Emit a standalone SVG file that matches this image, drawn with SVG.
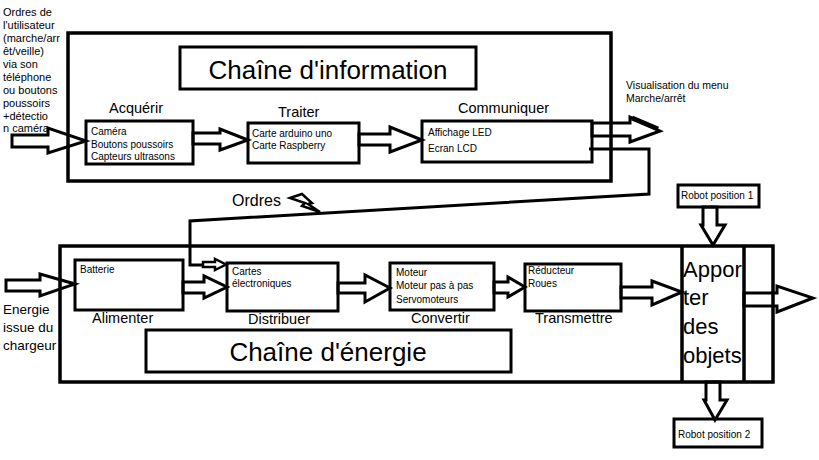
<svg xmlns="http://www.w3.org/2000/svg" width="819" height="460" viewBox="0 0 819 460">
<style>
text{font-family:"Liberation Sans",Arial,sans-serif;fill:#000}
.box{fill:#fff;stroke:#000;stroke-width:3}
.frame{fill:none;stroke:#000;stroke-width:3.5}
.arr{fill:none;stroke:#000;stroke-width:3;stroke-linejoin:miter}
.ln{fill:none;stroke:#000;stroke-width:3}
.t10{font-size:10px}
.t11{font-size:11px}
.lab{font-size:14.5px}
.big{font-size:26px}
</style>
<rect width="819" height="460" fill="#fff"/>

<!-- frames -->
<g id="info-chain">
<rect class="frame" x="68" y="33" width="543" height="148"/>
</g>
<g id="energy-chain">
<rect class="frame" x="60" y="246" width="713" height="136"/>
<line class="ln" x1="682" y1="246" x2="682" y2="382" style="stroke-width:3.5"/>
<line class="ln" x1="744" y1="246" x2="744" y2="382" style="stroke-width:3.5"/>
</g>

<g id="title-info">
<rect class="box" x="180" y="47" width="296" height="42"/>
<text class="big" x="328" y="79" text-anchor="middle">Chaîne d'information</text>
</g>
<g id="title-energy">
<rect class="box" x="146" y="330" width="365" height="42"/>
<text class="big" x="328" y="361" text-anchor="middle">Chaîne d'énergie</text>
</g>

<!-- left texts -->
<g id="user-orders">
<text class="t11" x="3" y="16">Ordres de</text>
<text class="t11" x="3" y="29">l'utilisateur</text>
<text class="t11" x="3" y="42">(marche/arr</text>
<text class="t11" x="3" y="55">êt/veille)</text>
<text class="t11" x="3" y="68">via son</text>
<text class="t11" x="3" y="81">téléphone</text>
<text class="t11" x="3" y="94">ou boutons</text>
<text class="t11" x="3" y="107">poussoirs</text>
<text class="t11" x="3" y="120">+détectio</text>
<text class="t11" x="3" y="132">n caméra</text>
</g>
<g id="energy-source">
<text style="font-size:13.5px" x="3" y="314">Energie</text>
<text style="font-size:13.5px" x="3" y="332">issue du</text>
<text style="font-size:13.5px" x="3" y="350">chargeur</text>
</g>
<g id="visualisation">
<text style="font-size:10.5px" x="626" y="89">Visualisation du menu</text>
<text style="font-size:10.5px" x="626" y="102">Marche/arrêt</text>
</g>

<!-- info nodes -->
<g id="acquerir">
<text class="lab" x="109" y="113">Acquérir</text>
<rect class="box" x="86" y="121" width="107" height="43"/>
<text class="t10" x="91" y="135">Caméra</text>
<text class="t10" x="91" y="148">Boutons poussoirs</text>
<text class="t10" x="91" y="160">Capteurs ultrasons</text>
</g>
<g id="traiter">
<text class="lab" x="278" y="117">Traiter</text>
<rect class="box" x="248" y="123" width="111" height="40"/>
<text class="t10" x="252" y="137">Carte arduino uno</text>
<text class="t10" x="252" y="149">Carte Raspberry</text>
</g>
<g id="communiquer">
<text class="lab" x="458" y="113">Communiquer</text>
<rect class="box" x="422" y="121" width="170" height="41"/>
<text class="t10" x="428" y="136">Affichage LED</text>
<text class="t10" x="428" y="152">Ecran LCD</text>
</g>

<!-- energy nodes -->
<g id="alimenter">
<rect class="box" x="75" y="260" width="108" height="50"/>
<text class="t10" x="80" y="273">Batterie</text>
<text class="lab" x="92" y="323">Alimenter</text>
</g>
<g id="distribuer">
<rect class="box" x="227" y="263" width="111" height="48"/>
<text class="t10" x="232" y="275">Cartes</text>
<text class="t10" x="232" y="287">électroniques</text>
<text class="lab" x="248" y="324">Distribuer</text>
</g>
<g id="convertir">
<rect class="box" x="390" y="263" width="104" height="47"/>
<text class="t10" x="396" y="276">Moteur</text>
<text class="t10" x="396" y="289">Moteur pas à pas</text>
<text class="t10" x="396" y="303">Servomoteurs</text>
<text class="lab" x="411" y="323">Convertir</text>
</g>
<g id="transmettre">
<rect class="box" x="525" y="264" width="96" height="47"/>
<text class="t10" x="528" y="274">Réducteur</text>
<text class="t10" x="528" y="287">Roues</text>
<text class="lab" x="535" y="323">Transmettre</text>
</g>
<g id="apporter">
<text style="font-size:22px" x="683" y="277">Appor</text>
<text style="font-size:22px" x="683" y="305">ter</text>
<text style="font-size:22px" x="683" y="334">des</text>
<text style="font-size:22px" x="683" y="363">objets</text>
</g>
<g id="robot1">
<rect class="box" x="678" y="185" width="81" height="22"/>
<text class="t10" x="681" y="199">Robot position 1</text>
</g>
<g id="robot2">
<rect class="box" x="674" y="419" width="88" height="28"/>
<text class="t10" x="678" y="438">Robot position 2</text>
</g>

<!-- connectors -->
<g id="connectors">
<polygon class="arr" points="12,135 48,135 48,128 86,141 48,153 48,147 12,147"/>
<polygon class="arr" points="193,133 220,133 220,129 248,140 220,150 220,144 193,144"/>
<polygon class="arr" points="359,134 390,134 390,127 422,140 390,152 390,145 359,145"/>
<polygon class="arr" points="592,123 630,123 630,117 660,131 630,142 630,136 592,136"/>
<line class="ln" x1="632" y1="118" x2="658" y2="129" style="stroke-width:5"/>

<polyline class="ln" points="589,149 649,149 649,194 190,221 190,265 203,265"/>
<polygon class="arr" points="203,262 215,262 215,259 226,264.5 215,270 215,267 203,267" style="stroke-width:2.5"/>
<polygon class="arr" points="290,198 302,194 312,203 308,204 320,212 302,206 305,203" style="stroke-width:2.5"/>
<text style="font-size:16px" x="232" y="206">Ordres</text>

<polygon class="arr" points="6,280 40,280 40,274 75,284 40,296 40,291 6,291"/>
<polygon class="arr" points="183,282 204,282 204,276 227,287 204,298 204,293 183,293"/>
<polygon class="arr" points="338,283 365,283 365,275 390,288 365,302 365,293 338,293"/>
<polygon class="arr" points="494,282 508,282 508,277 525,287 508,297 508,293 494,293"/>
<polygon class="arr" points="621,287 652,287 652,281 682,292 652,305 652,298 621,298"/>
<polygon class="arr" points="744,293 777,293 777,286 813,298 777,312 777,306 744,306"/>

<polygon class="arr" points="703,207 717,207 717,225 725,225 713,245 701,225 703,225"/>
<polygon class="arr" points="706,382 720,382 720,400 727,400 715,420 704,400 706,400"/>
</g>
</svg>
